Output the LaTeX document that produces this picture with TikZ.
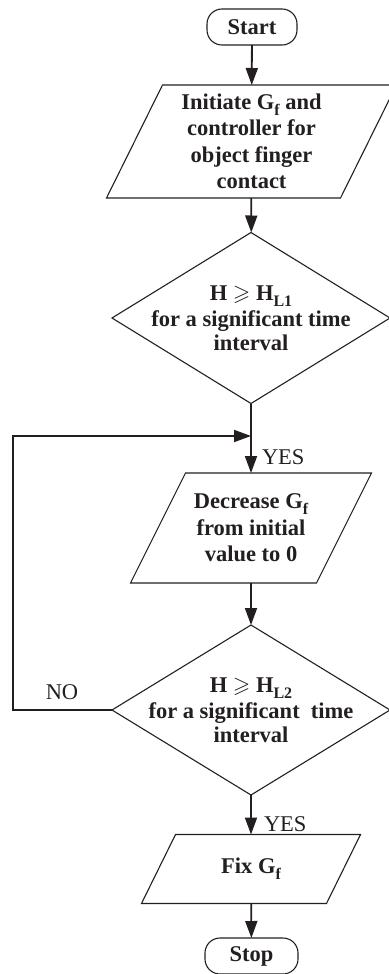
\documentclass[tikz,border=0pt]{standalone}
\usepackage{fontspec}
\usepackage{amssymb}
\setmainfont{Liberation Serif}
\usetikzlibrary{arrows.meta}
\definecolor{ink}{HTML}{231F20}
\newcommand\lsub[1]{\raisebox{-0.27em}{\fontsize{16}{16}\selectfont #1}}
\newcommand\drawpara[2]{\draw[shapeline] ([xshift=#2]#1.north west) -- ([xshift=#2]#1.north east) -- ([xshift=-#2]#1.south east) -- ([xshift=-#2]#1.south west) -- cycle;}
\newcommand\drawdiam[1]{\draw[shapeline] (#1.north) -- (#1.east) -- (#1.south) -- (#1.west) -- cycle;}
\begin{document}
\begin{tikzpicture}[x=1pt,y=-1pt,
  every node/.style={inner sep=0pt, outer sep=0pt, text=ink, font=\fontsize{22.5}{26}\selectfont},
  shapeline/.style={line width=1.1pt, draw=ink},
  conn/.style={line width=1.8pt, draw=ink, -{Triangle[length=17pt,width=12pt]}},
  term/.style={shapeline, rounded corners=15pt, minimum height=36pt, font=\fontsize{22.5}{26}\selectfont\bfseries},
  dec/.style={rectangle, minimum width=278pt, align=center, font=\fontsize{22.5}{24.5}\selectfont\bfseries},
  io/.style={rectangle, align=center, font=\fontsize{22.5}{26.5}\selectfont\bfseries},
  lbl/.style={font=\fontsize{22.5}{26}\selectfont}
]
\useasboundingbox (0,0) rectangle (388,974);

\node[term, minimum width=90pt] (start) at (252,27) {Start};
\node[io, minimum width=234pt, minimum height=113pt] (p1) at (251.5,141.5)
  {Initiate G\lsub{f} and\\controller for\\object finger\\contact};
\node[dec, minimum height=171pt] (d1) at (251,318)
  {H $\geqslant$ H\lsub{L1}\\[1.5pt]for a significant time\\interval};
\node[io, minimum width=186pt, minimum height=110pt] (p2) at (251,528)
  {Decrease G\lsub{f}\\from initial\\value to 0};
\node[dec, minimum height=170pt] (d2) at (251,710)
  {H $\geqslant$ H\lsub{L2}\\[1.5pt]for a significant\ \ time\\interval};
\node[io, minimum width=185pt, minimum height=69pt] (p3) at (251,869) {Fix G\lsub{f}};
\node[term, minimum width=93pt] (stop) at (251.5,956) {Stop};

\drawpara{p1}{28pt}
\drawdiam{d1}
\drawpara{p2}{27.5pt}
\drawdiam{d2}
\drawpara{p3}{17pt}

\coordinate (loopx) at (13,0);
\coordinate (j) at (251,436);

\draw[conn] (start) -- (p1);
\draw[conn] (p1) -- (d1);
\draw[conn] (d1) -- (p2);
\draw[conn] (p2) -- (d2);
\draw[conn] (d2) -- (p3);
\draw[conn] (p3) -- (stop);
\draw[conn] (d2.west) -- (d2.west -| loopx) |- (j);

\node[lbl, anchor=west] (yes1) at (262,457) {YES};
\node[lbl, anchor=west] (yes2) at (264,824) {YES};
\node[lbl] (no) at (62,692) {NO};
\end{tikzpicture}
\end{document}
